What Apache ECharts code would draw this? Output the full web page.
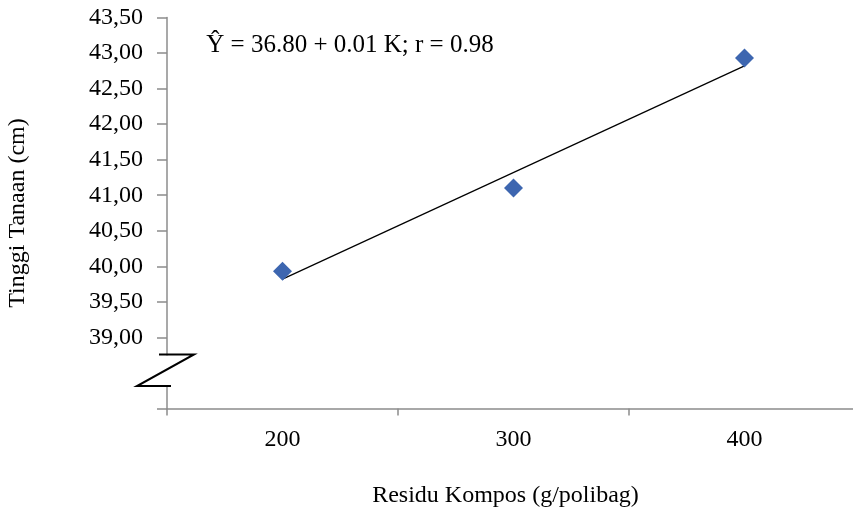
<!DOCTYPE html>
<html>
<head>
<meta charset="utf-8">
<script src="https://cdn.jsdelivr.net/npm/echarts@6/dist/echarts.min.js"></script>
<style>html,body{margin:0;padding:0;background:#fff;}#c{width:853px;height:512px;}</style>
</head>
<body>
<div id="c"></div>
<script>
// Data
const doses = [200, 300, 400];
const heights = [39.93, 41.10, 42.93];
const trendX = [200, 400];
const trendY = [39.82, 42.82];
const xTickLabels = ['200', '300', '400'];
const equationText = 'Ŷ = 36.80 + 0.01 K; r = 0.98';
const xTitle = 'Residu Kompos (g/polibag)';
const yTitle = 'Tinggi Tanaan (cm)';

const FONT = 'Liberation Serif';
const axisGray = '#8c8c8c';

const chart = echarts.init(document.getElementById('c'), null, {renderer: 'canvas'});
const option = {
  animation: false,
  backgroundColor: '#ffffff',
  grid: {left: 167, width: 693, top: 17.5, height: 391, containLabel: false, outerBoundsMode: 'none'},
  xAxis: [{
    type: 'value', min: 150, max: 450, interval: 50,
    position: 'bottom',
    axisLine: {show: true, lineStyle: {color: axisGray, width: 1.5}},
    axisTick: {show: false},
    splitLine: {show: false},
    axisLabel: {
      margin: 19, color: '#000', fontFamily: FONT, fontSize: 24,
      showMinLabel: true, showMaxLabel: true,
      formatter: v => (xTickLabels.indexOf(String(v)) >= 0 ? String(v) : '')
    },
    name: xTitle, nameLocation: 'middle', nameGap: 75,
    nameTextStyle: {color: '#000', fontFamily: FONT, fontSize: 24, padding: [0, 16, 0, 0]}
  }, {
    type: 'value', min: 150, max: 450, interval: 100,
    position: 'bottom', offset: 0,
    axisLine: {show: false},
    axisTick: {show: true, length: 7, lineStyle: {color: axisGray, width: 1.5}},
    axisLabel: {show: false},
    splitLine: {show: false}
  }],
  yAxis: {
    type: 'value', min: 38, max: 43.5, interval: 0.5,
    axisLine: {show: true, lineStyle: {color: axisGray, width: 1.5}},
    axisTick: {show: true, length: 10, lineStyle: {color: axisGray, width: 1.5}},
    splitLine: {show: false},
    axisLabel: {
      margin: 24, color: '#000', fontFamily: FONT, fontSize: 24,
      formatter: v => (v >= 39 ? v.toFixed(2).replace('.', ',') : '')
    },
    name: yTitle, nameLocation: 'middle', nameGap: 137, nameRotate: 90,
    nameTextStyle: {color: '#000', fontFamily: FONT, fontSize: 24}
  },
  series: [{
    type: 'line',
    data: trendX.map((x, i) => [x, trendY[i]]),
    showSymbol: false, symbol: 'none',
    lineStyle: {color: '#000', width: 1.2},
    z: 2
  }, {
    type: 'scatter',
    data: doses.map((x, i) => [x, heights[i]]),
    symbol: 'diamond', symbolSize: 19,
    itemStyle: {color: '#3d66b0', opacity: 1},
    z: 3
  }]
};
chart.setOption(option);

// Axis break symbol and regression equation
const ax = chart.convertToPixel({xAxisIndex: 0}, 150);
const yTop = chart.convertToPixel({yAxisIndex: 0}, 38.76);
const yBot = chart.convertToPixel({yAxisIndex: 0}, 38.315);
const eqX = chart.convertToPixel({xAxisIndex: 0}, 167);
const eqY = chart.convertToPixel({yAxisIndex: 0}, 43.1);
chart.setOption({
  graphic: [
    {type: 'rect', shape: {x: ax - 14, y: yTop + 1, width: 18, height: yBot - yTop - 2},
     style: {fill: '#fff'}, z: 100},
    {type: 'polyline', shape: {points: [[ax - 8, yTop], [ax + 27, yTop], [ax - 30, yBot], [ax + 4, yBot]]},
     style: {stroke: '#000', lineWidth: 2, fill: null}, z: 101},
    {type: 'text', x: eqX, y: eqY, z: 102,
     style: {text: equationText, font: '25px "Liberation Serif"', fill: '#000',
             textAlign: 'left', textVerticalAlign: 'middle'}}
  ]
});
</script>
</body>
</html>
